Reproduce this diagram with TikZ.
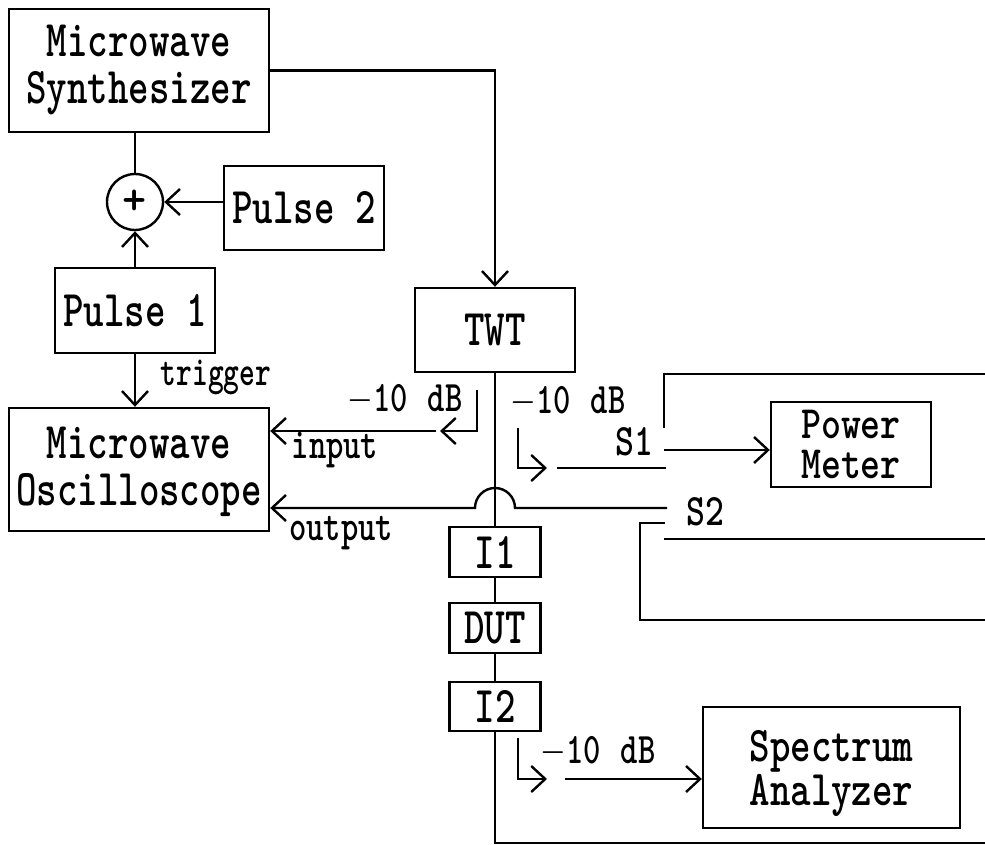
\RequirePackage{fix-cm}
\documentclass[tikz,border=0pt]{standalone}
\usepackage{graphicx}
\usetikzlibrary{arrows.meta}
\newcommand{\vtxt}[2][1.32]{\scalebox{1}[#1]{#2}}
\newcommand{\lowerby}[2]{\raisebox{-#1}[\height][\depth]{#2}}
\tikzset{
  wire/.style={line width=2.4pt},
  arr/.style={wire, -{Straight Barb[length=14pt,width=26pt]}},
  blk/.style={draw, line width=2.4pt, inner sep=0pt, font=\ttfamily\bfseries\fontsize{39}{36}\selectfont},
  lbl/.style={inner sep=0pt, font=\ttfamily\bfseries\fontsize{33}{33}\selectfont},
}
\begin{document}
\begin{tikzpicture}[x=1pt,y=-1pt]
\useasboundingbox (0,0) rectangle (985,845);
% blocks
\node[blk, minimum width=260pt, minimum height=123pt] (synth) at (139,70.5)
  {\vtxt{\begin{tabular}{@{}c@{}}Microwave\\Synthesizer\end{tabular}}};
\node[draw, circle, line width=2.4pt, minimum size=56pt, inner sep=0pt,
      font=\ttfamily\bfseries\fontsize{46}{46}\selectfont] (sum) at (135,202) {+};
\node[blk, minimum width=160pt, minimum height=84pt] (pulse2) at (304,208) {\vtxt{Pulse 2}};
\node[blk, minimum width=160pt, minimum height=85pt] (pulse1) at (135,310.5) {\vtxt{Pulse 1}};
\node[blk, minimum width=260pt, minimum height=123pt] (osc) at (139,469.5)
  {\lowerby{3pt}{\vtxt{\begin{tabular}{@{}c@{}}Microwave\\Oscilloscope\end{tabular}}}};
\node[blk, minimum width=160pt, minimum height=84pt] (twt) at (495,330) {\vtxt{TWT}};
\node[blk, minimum width=160pt, minimum height=85pt, font=\ttfamily\bfseries\fontsize{38}{33}\selectfont] (pm) at (851,444.5)
  {\lowerby{6pt}{\vtxt[1.22]{\begin{tabular}{@{}c@{}}Power\\Meter\end{tabular}}}};
\node[blk, minimum width=91pt, minimum height=50pt] (i1) at (495,552) {\vtxt{I1}};
\node[blk, minimum width=91pt, minimum height=50pt] (dut) at (495,628) {\vtxt{DUT}};
\node[blk, minimum width=91pt, minimum height=49pt] (i2) at (495,706.5) {\vtxt{I2}};
\node[blk, minimum width=257pt, minimum height=121pt, font=\ttfamily\bfseries\fontsize{39}{35}\selectfont] (sa) at (831.5,767.5)
  {\lowerby{7pt}{\vtxt[1.28]{\begin{tabular}{@{}c@{}}Spectrum\\Analyzer\end{tabular}}}};
% labels
\node[lbl, font=\ttfamily\bfseries\fontsize{30}{30}\selectfont] (trig) at (216,377) {\vtxt[1.4]{trigger}};
\node[lbl] (dbl) at (405,400) {\vtxt{$-$10\hspace{0.6em}dB}};
\node[lbl] (inp) at (335,450) {\vtxt{input}};
\node[lbl] (outp) at (341,533) {\vtxt{output}};
\node[lbl] (dbr) at (568,402) {\vtxt{$-$10\hspace{0.6em}dB}};
\node[lbl, font=\ttfamily\bfseries\fontsize{36}{36}\selectfont] (s1) at (634,442) {\vtxt[1.25]{S1}};
\node[lbl, font=\ttfamily\bfseries\fontsize{36}{36}\selectfont] (s2) at (705,512) {\vtxt[1.25]{S2}};
\node[lbl] (dbb) at (598,752) {\vtxt{$-$10\hspace{0.6em}dB}};
% connectors top
\draw[arr] (synth.east) -| (twt.north);
\draw[wire] (synth.south -| sum.north) -- (sum.north);
\draw[arr] (sum.east -| pulse2.west) -- (sum.east);
\draw[arr] (pulse1.north -| sum.south) -- (sum.south);
\draw[arr] (pulse1.south) -- (pulse1.south |- osc.north);
% left tap to oscilloscope input
\coordinate (tapLa) at (477,390);
\coordinate (tapLb) at (440,431);
\coordinate (tapLc) at (436,431);
\draw[arr] (tapLa) |- (tapLb);
\draw[arr] (tapLc) -- (tapLc -| osc.east);
% output line with hop
\coordinate (s2in) at (667,508);
\coordinate (hopR) at (515,508);
\draw[arr] (s2in) -- (hopR) arc[start angle=0, end angle=-180, radius=20] -- (osc.east |- s2in);
% right tap to S1
\coordinate (tapRa) at (518,428);
\coordinate (tapRb) at (547,468);
\coordinate (s1in) at (557,468);
\coordinate (s1inb) at (666,468);
\draw[arr] (tapRa) |- (tapRb);
\draw[wire] (s1in) -- (s1inb);
% S1 contacts
\coordinate (s1c) at (664,428);
\coordinate (s1top) at (985,374);
\draw[wire] (s1c) |- (s1top);
\coordinate (s1out) at (664,450);
\draw[arr] (s1out) -- (s1out -| pm.west);
% S2 contacts
\coordinate (s2a) at (665,523);
\coordinate (s2bend) at (640,523);
\coordinate (s2ae) at (985,620);
\draw[wire] (s2a) -- (s2bend) |- (s2ae);
\coordinate (s2b) at (664,539);
\coordinate (s2be) at (985,539);
\draw[wire] (s2b) -- (s2be);
% main chain
\draw[wire] (twt.south) -- (i1.north);
\draw[wire] (i1.south) -- (dut.north);
\draw[wire] (dut.south) -- (i2.north);
\coordinate (bot) at (985,843);
\draw[wire] (i2.south) |- (bot);
% bottom tap to spectrum analyzer
\coordinate (tapBa) at (518,738);
\coordinate (tapBb) at (547,779);
\coordinate (sain) at (565,779);
\draw[arr] (tapBa) |- (tapBb);
\draw[arr] (sain) -- (sain -| sa.west);
\end{tikzpicture}
\end{document}
